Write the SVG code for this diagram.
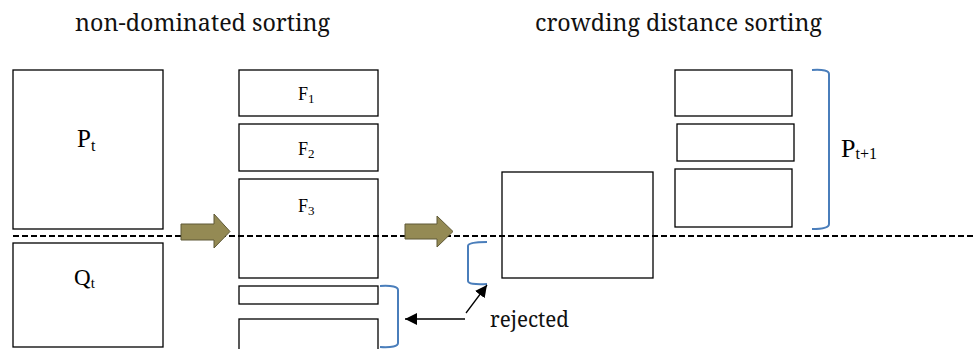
<svg xmlns="http://www.w3.org/2000/svg" width="976" height="349" viewBox="0 0 976 349">
<style>
.box{fill:#fff;stroke:#000;stroke-width:1.3}
.brk{fill:none;stroke:#4a7ebb;stroke-width:2}
.fat{fill:#948a54;stroke:#5f5936;stroke-width:1}
.thin{stroke:#000;stroke-width:1.3;fill:none}
</style>
<defs>
<marker id="ah" viewBox="0 0 10 10" refX="10" refY="5" markerWidth="12" markerHeight="12" markerUnits="userSpaceOnUse" orient="auto">
<path d="M0,0 L10,5 L0,10 z" fill="#000"/>
</marker>
</defs>
<rect width="976" height="349" fill="#fff"/>
<text x="75" y="31" font-family="Noto Serif" font-size="23" fill="#111" textLength="255" lengthAdjust="spacingAndGlyphs">non-dominated sorting</text>
<text x="535" y="31" font-family="Noto Serif" font-size="23" fill="#111" textLength="287" lengthAdjust="spacingAndGlyphs">crowding distance sorting</text>
<g id="Pt"><rect class="box" x="13" y="70" width="150" height="159"/><text font-family="Liberation Serif" x="77" y="147" font-size="25">P<tspan font-size="16" dy="4">t</tspan></text></g>
<g id="Qt"><rect class="box" x="13" y="243" width="150" height="104"/><text font-family="Liberation Serif" x="74" y="285" font-size="23">Q<tspan font-size="15" dy="3">t</tspan></text></g>
<g id="F1"><rect class="box" x="239" y="70" width="139" height="46"/><text font-family="Liberation Serif" x="298" y="100" font-size="18">F<tspan font-size="13" dy="3">1</tspan></text></g>
<g id="F2"><rect class="box" x="239" y="124" width="139" height="47"/><text font-family="Liberation Serif" x="298" y="155" font-size="18">F<tspan font-size="13" dy="3">2</tspan></text></g>
<g id="F3"><rect class="box" x="239" y="179" width="139" height="99"/><text font-family="Liberation Serif" x="298" y="212" font-size="18">F<tspan font-size="13" dy="3">3</tspan></text></g>
<g id="R1"><rect class="box" x="239" y="286" width="139" height="18"/></g>
<g id="R2"><rect class="box" x="239" y="319" width="139" height="32"/></g>
<g id="C"><rect class="box" x="502" y="172" width="151" height="106"/></g>
<g id="N1"><rect class="box" x="675" y="70" width="117" height="46"/></g>
<g id="N2"><rect class="box" x="677" y="124" width="117" height="37"/></g>
<g id="N3"><rect class="box" x="675" y="169" width="117" height="58"/></g>
<g id="Pt1"><text font-family="Liberation Serif" x="841" y="157" font-size="26">P<tspan font-size="16" dy="2">t+1</tspan></text></g>
<g id="connectors">
<line x1="13" y1="236" x2="976" y2="236" stroke="#000" stroke-width="2" stroke-dasharray="6,3"/>
<path class="fat" d="M181,224 H214 V214 L230,231.5 L214,248 V240 H181 Z"/>
<path class="fat" d="M405,224 H437 V216 L453,231.5 L437,247 V239 H405 Z"/>
<path class="brk" d="M380,286 Q398,285 398,290 V343 Q398,348 380,347"/>
<path class="brk" d="M487,242 Q468,242 468,246 V281 Q468,285 487,284"/>
<path class="brk" d="M812,70 Q829,69 829,74 V224 Q829,229 812,229"/>
<line class="thin" x1="465" y1="319" x2="405" y2="319" marker-end="url(#ah)"/>
<line class="thin" x1="466" y1="313" x2="487" y2="285" marker-end="url(#ah)"/>
</g>
<text x="490" y="327" font-family="Noto Serif" font-size="21" fill="#111" textLength="79" lengthAdjust="spacingAndGlyphs">rejected</text>
</svg>
